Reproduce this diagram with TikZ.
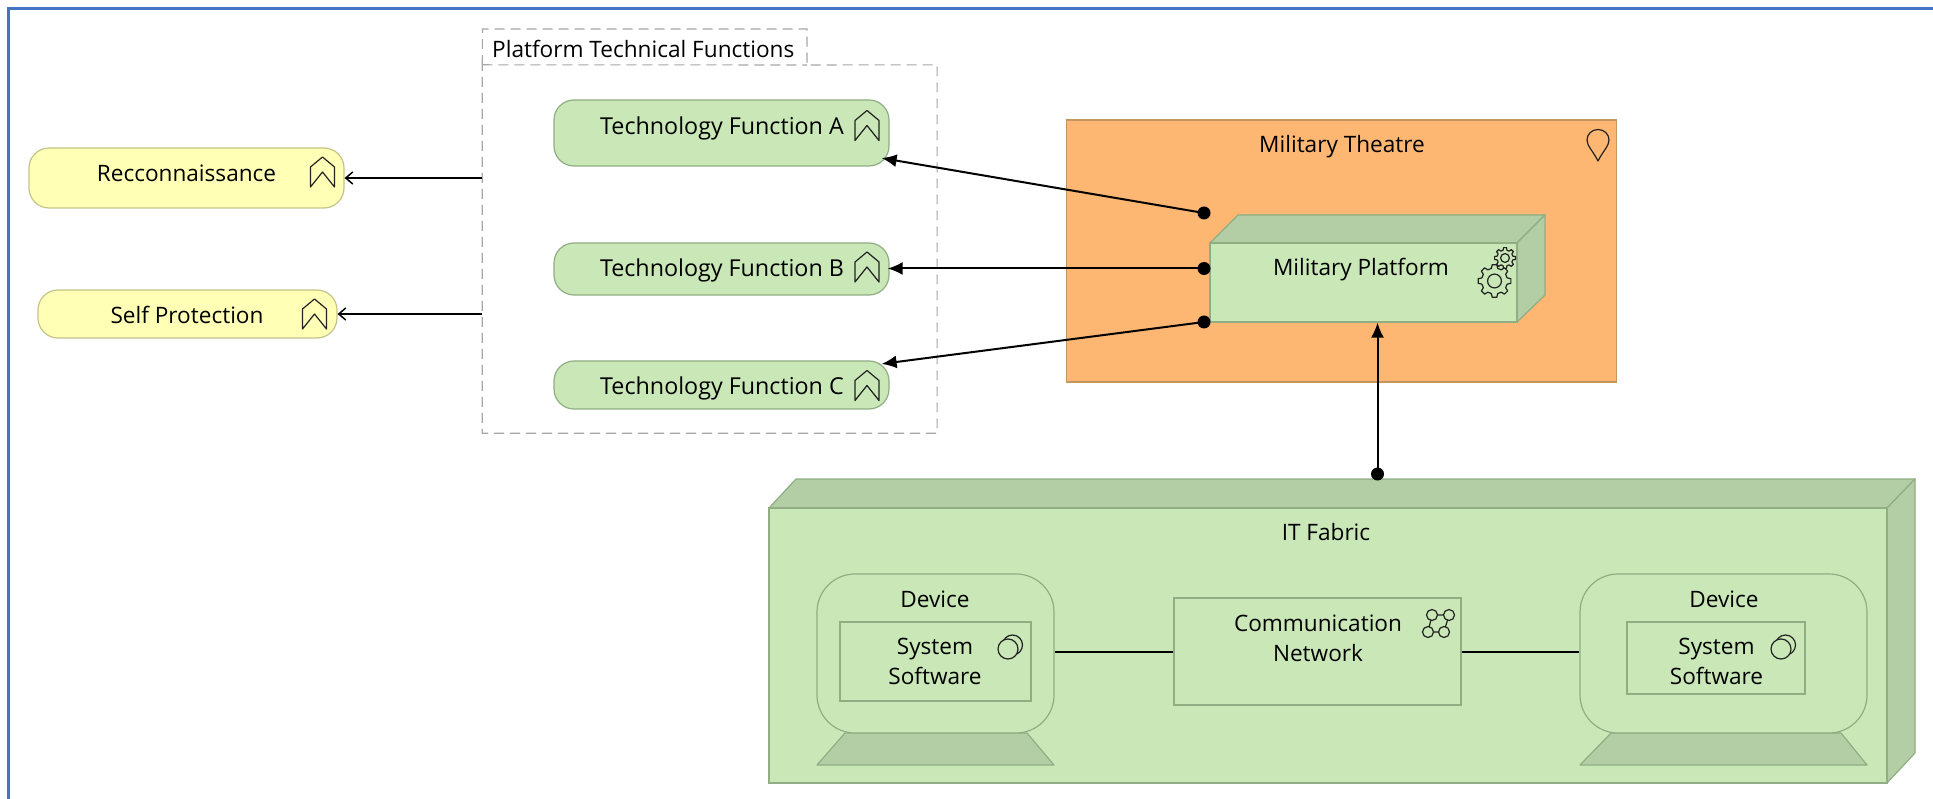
\documentclass[tikz,border=0pt]{standalone}
\usepackage{fontspec}
\setmainfont{Open Sans}
\usetikzlibrary{arrows.meta,calc,positioning}
\definecolor{frameblue}{HTML}{4472C4}
\definecolor{grn}{HTML}{C9E7B7}
\definecolor{grnd}{HTML}{B3CDA4}
\definecolor{grne}{HTML}{8FAE83}
\definecolor{yel}{HTML}{FFFFB5}
\definecolor{yele}{HTML}{C4C48A}
\definecolor{org}{HTML}{FDB773}
\definecolor{orge}{HTML}{C4965F}
\definecolor{icn}{HTML}{222222}
\tikzset{
  txt/.style={inner sep=0pt,font=\fontsize{22.6}{30}\selectfont,text=black,align=center},
  txtf/.style={inner sep=0pt,font=\fontsize{23.3}{30}\selectfont,text=black,align=center},
  fnbox/.style={draw=grne,fill=grn,line width=1.2pt,rounded corners=20pt,inner sep=0pt},
  ylbox/.style={draw=yele,fill=yel,line width=1.2pt,rounded corners=20pt,inner sep=0pt},
  flat/.style={draw=grne,fill=grn,line width=1.2pt,inner sep=0pt},
  shade3d/.style={draw=grne,fill=grnd,line width=1.2pt,line join=round},
  icon/.style={draw=icn,line width=1.2pt,line join=round},
  groupline/.style={draw=gray!70,line width=1.1pt,dash pattern=on 10pt off 6pt},
  conn/.style={draw=black,line width=2pt},
  tipopen/.style={conn,-{Straight Barb[length=7pt,width=12pt,line width=1.5pt]}},
  tipsolid/.style={conn,-{Latex[length=15pt,width=13pt]}},
  dotn/.style={circle,fill=black,inner sep=0pt,minimum size=13pt},
}
\newcommand{\fnicon}[2]{\draw[icon,shift={(#1,#2)}] (0,-15) -- (12,-5) -- (12,15) -- (0,0) -- (-12,15) -- (-12,-5) -- cycle;}
\newcommand{\pinicon}[2]{\draw[icon,shift={(#1,#2)}] (0,16) .. controls (-5,6) and (-11,1) .. (-11,-5) .. controls (-11,-11) and (-6,-15.5) .. (0,-15.5) .. controls (6,-15.5) and (11,-11) .. (11,-5) .. controls (11,1) and (5,6) .. (0,16) -- cycle;}
\newcommand{\gearicon}[4]{\begin{scope}[shift={(#1,#2)}]
  \draw[icon] (-14:#4) \foreach \a in {0,45,...,315}{ -- (\a-14:#4) -- (\a-8:#3) -- (\a+8:#3) -- (\a+14:#4)} -- cycle;
  \draw[icon] (0,0) circle ({#3*0.42});
\end{scope}}
\newcommand{\sysicon}[2]{\begin{scope}[shift={(#1,#2)}]
  \draw[icon] (3.5,-3) circle (10);
  \draw[icon,fill=grn] (-1,1) circle (10);
\end{scope}}
\newcommand{\neticon}[2]{\begin{scope}[shift={(#1,#2)}]
  \draw[icon] (-6,-8) -- (11,-8) -- (6,9) -- (-10,9) -- cycle;
  \foreach \p in {(-6,-8),(11,-8),(-10,9),(6,9)}{\draw[icon,fill=grn] \p circle (5.5);}
\end{scope}}
\begin{document}
\begin{tikzpicture}[x=1pt,y=-1pt]
\useasboundingbox (0,0) rectangle (1933,799);
\fill[white] (0,0) rectangle (1933,799);
% frame
\draw[frameblue,line width=2.2pt] (8.5,799) -- (8.5,8.5) -- (1933,8.5);

% group
\coordinate (gTL) at (482.5,29);
\node[inner sep=0pt,minimum width=454.5pt,minimum height=368pt] (grp) at (709.7,249) {};
\draw[groupline] (grp.north west) -- (gTL) -- (807,29) -- (807,65) -- (grp.north east) -- (grp.south east) -- (grp.south west) -- cycle;
\draw[groupline] (grp.north west) -- (807,65);
\node[txt,anchor=west] (grpl) at (492,49) {Platform Technical Functions};

% yellow
\node[ylbox,minimum width=315pt,minimum height=60pt] (rec) at (186.5,178) {};
\node[ylbox,minimum width=299pt,minimum height=48pt] (sel) at (187.5,314) {};
\node[txt] (recl) at (186.5,173) {Recconnaissance};
\node[txt] (sell) at (187,315) {Self Protection};
\fnicon{322.5}{172}
\fnicon{314.5}{314}

% functions
\node[fnbox,minimum width=335pt,minimum height=66pt] (fa) at (721.5,133) {};
\node[fnbox,minimum width=335pt,minimum height=52pt] (fb) at (721.5,269) {};
\node[fnbox,minimum width=335pt,minimum height=48pt] (fc) at (721.5,385) {};
\node[txtf] (fal) at (722,128) {Technology Function A};
\node[txtf] (fbl) at (722,270) {Technology Function B};
\node[txtf] (fcl) at (722,388) {Technology Function C};
\fnicon{867}{125.5}
\fnicon{867}{267}
\fnicon{867}{385.5}

% theatre
\node[draw=orge,fill=org,line width=1.2pt,inner sep=0pt,minimum width=550pt,minimum height=262pt] (th) at (1341.5,251) {};
\node[txt] (thl) at (1342,147) {Military Theatre};
\pinicon{1598}{145}

% platform
\fill[grnd] (1210,243) -- (1238,215) -- (1545,215) -- (1545,295) -- (1517,322) -- (1517,243) -- cycle;
\draw[shade3d] (1210,243) -- (1238,215) -- (1545,215) -- (1517,243) -- cycle;
\draw[shade3d] (1517,243) -- (1545,215) -- (1545,295) -- (1517,322) -- cycle;
\node[flat,minimum width=307pt,minimum height=79pt] (pf) at (1363.5,282.5) {};
\node[txt] (pfl) at (1361,270) {Military Platform};
\gearicon{1505}{258}{10.5}{8}
\gearicon{1494.5}{281}{16.5}{13}

% IT fabric
\draw[shade3d] (769,508) -- (796,479) -- (1915,479) -- (1887,508) -- cycle;
\draw[shade3d] (1887,508) -- (1915,479) -- (1915,753) -- (1887,783) -- cycle;
\node[flat,minimum width=1118pt,minimum height=275pt] (it) at (1328,645.5) {};
\node[txt] (itl) at (1326,532) {IT Fabric};

% devices
\draw[shade3d] (845,733) -- (1027,733) -- (1054,765) -- (817,765) -- cycle;
\node[flat,rounded corners=38pt,minimum width=237pt,minimum height=159pt] (dl) at (935.5,653.5) {};
\node[txt] (dll) at (935,599) {Device};
\node[flat,minimum width=191pt,minimum height=79pt] (sl) at (935.5,661.5) {};
\node[txt] (sll) at (935,661.5) {System\\Software};
\sysicon{1009}{648}

\draw[shade3d] (1611,733) -- (1841,733) -- (1867,765) -- (1580,765) -- cycle;
\node[flat,rounded corners=38pt,minimum width=287pt,minimum height=159pt] (dr) at (1723.5,653.5) {};
\node[txt] (drl) at (1724,599) {Device};
\node[flat,minimum width=178pt,minimum height=72pt] (sr) at (1716,658) {};
\node[txt] (srl) at (1716.5,661.5) {System\\Software};
\sysicon{1782}{648}

% network
\node[flat,minimum width=287pt,minimum height=107pt] (net) at (1317.5,651.5) {};
\node[txt] (netl) at (1318,638) {Communication\\Network};
\neticon{1438}{623}

% connectors
\draw[tipopen] (grp.west |- rec.east) -- (rec.east);
\draw[tipopen] (grp.west |- sel.east) -- (sel.east);
\node[dotn] (da) at (1204,213) {};
\node[dotn] (db) at (1204,268.5) {};
\node[dotn] (dc) at (1204,322) {};
\node[dotn] (dp) at (1377.5,474) {};
\draw[tipsolid] (da.center) -- ($(fa.south east)+(-8,-8.5)$);
\draw[tipsolid] (db.center) -- ($(fb.east |- db.center)+(-2,0)$);
\draw[tipsolid] (dc.center) -- ($(fc.north east)+(-8,3.5)$);
\draw[tipsolid] (dp.center) -- (dp.center |- pf.south);
\draw[conn] (dl.east |- net.west) -- (net.west);
\draw[conn] (net.east) -- (dr.west |- net.east);
\end{tikzpicture}
\end{document}
